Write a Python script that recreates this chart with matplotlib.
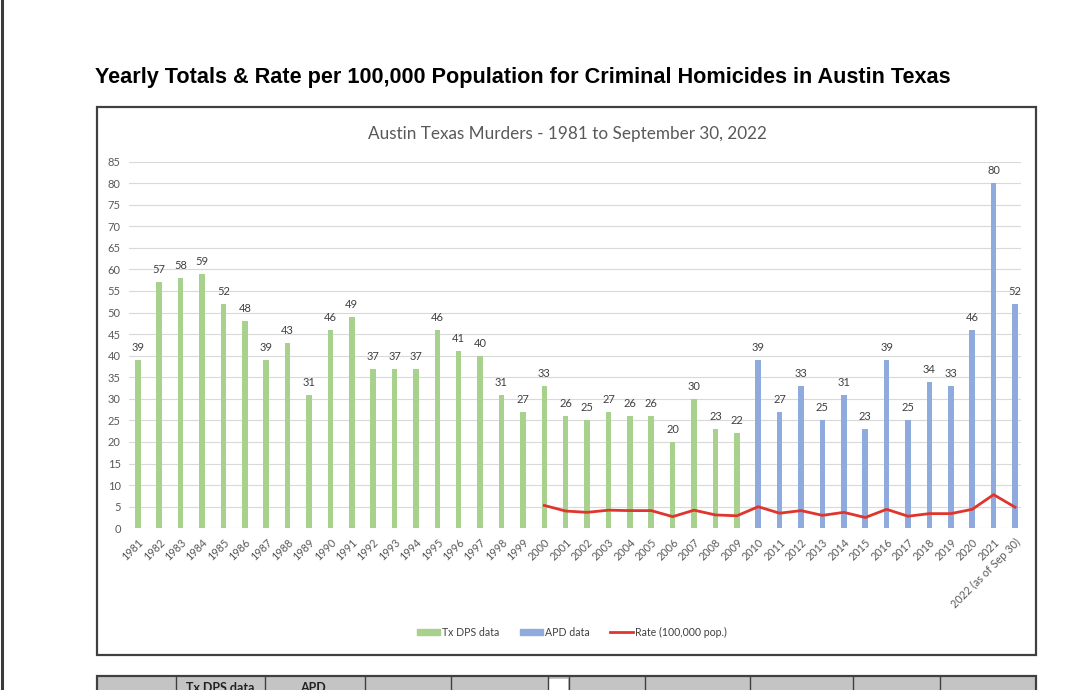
import matplotlib.pyplot as plt
from matplotlib.patches import Rectangle, Patch
from matplotlib.lines import Line2D

# data
years = [str(y) for y in range(1981, 2022)] + ['2022 (as of Sep 30)']
dps_counts = [39, 57, 58, 59, 52, 48, 39, 43, 31, 46, 49, 37, 37, 37, 46,
              41, 40, 31, 27, 33, 26, 25, 27, 26, 26, 20, 30, 23, 22]   # 1981-2009
apd_counts = [39, 27, 33, 25, 31, 23, 39, 25, 34, 33, 46, 80, 52]       # 2010-2022
rate = [5.3, 4.0, 3.7, 4.2, 4.1, 4.1, 2.7, 4.2, 3.1, 2.9, 5.0, 3.5,
        4.1, 3.0, 3.7, 2.5, 4.4, 2.8, 3.4, 3.4, 4.4, 7.8, 4.9]          # 2000-2022
rate_start = 2000 - 1981

GREEN = '#a9d18e'
BLUE = '#8faadc'
RED = '#e0352d'
W, H = 1079, 690

fig = plt.figure(figsize=(W / 100, H / 100), dpi=100)
fig.patch.set_facecolor('white')

def px(x0, y0, x1, y1):
    # pixel box -> figure fraction [left, bottom, width, height]
    return [x0 / W, 1 - y1 / H, (x1 - x0) / W, (y1 - y0) / H]

# page decoration: left page edge, chart frame, table below
fig.add_artist(Line2D([1.5 / W, 1.5 / W], [0, 1], color='#3a3a3a', lw=2.2))
fig.add_artist(Rectangle((97 / W, 1 - 655 / H), 939 / W, 548 / H, fill=False,
                         ec='#404040', lw=1.6))
fig.add_artist(Rectangle((97 / W, 1 - 700 / H), 939 / W, 24 / H, fc='#c4c4c4',
                         ec='#404040', lw=1.6))
fig.add_artist(Rectangle((548 / W, 1 - 700 / H), 20 / W, 21 / H, fc='white', ec='none'))
for x in [176, 265, 365, 451, 548, 569, 645, 750, 853, 940]:
    fig.add_artist(Line2D([x / W, x / W], [0, 1 - 677 / H], color='#404040', lw=1.0))
fig.text(220 / W, 1 - 682 / H, 'Tx DPS data', ha='center', va='top', fontsize=9,
         fontweight='bold', family='Lato', color='#222222')
fig.text(313 / W, 1 - 682 / H, 'APD', ha='center', va='top', fontsize=9,
         fontweight='bold', family='Lato', color='#222222')

fig.text(95 / W, 1 - 77 / H,
         'Yearly Totals & Rate per 100,000 Population for Criminal Homicides in Austin Texas',
         ha='left', va='center', fontsize=15.6, fontweight='bold',
         family='Liberation Sans', color='black')

ax = fig.add_axes(px(129, 161.5, 1021, 528.3))
x_dps = list(range(len(dps_counts)))
x_apd = list(range(len(dps_counts), len(dps_counts) + len(apd_counts)))
x_rate = list(range(rate_start, rate_start + len(rate)))

ax.bar(x_dps, dps_counts, width=0.26, color=GREEN, zorder=2)
ax.bar(x_apd, apd_counts, width=0.26, color=BLUE, zorder=2)
ax.plot(x_rate, rate, color=RED, lw=2.0, zorder=3, solid_joinstyle='round')

for xs, vs in [(x_dps, dps_counts), (x_apd, apd_counts)]:
    for x, v in zip(xs, vs):
        ax.annotate(str(v), (x, v), xytext=(0, 5), textcoords='offset points',
                    ha='center', va='bottom', fontsize=8, family='Lato',
                    color='#404040')

ax.set_xlim(-0.41, 41.28)
ax.set_ylim(0, 85)
ax.set_yticks(range(0, 90, 5))
ax.set_xticks(range(len(years)))
ax.set_xticklabels(years, rotation=45, ha='right', rotation_mode='anchor',
                   fontsize=7.8, family='Lato', color='#595959')
for lab in ax.get_yticklabels():
    lab.set_fontsize(8)
    lab.set_family('Lato')
    lab.set_color('#595959')
ax.tick_params(length=0, pad=6)
ax.grid(axis='y', color='#d9d9d9', lw=0.8, zorder=0)
for s in ax.spines.values():
    s.set_visible(False)

fig.text(567 / W, 1 - 134 / H, 'Austin Texas Murders - 1981 to September 30, 2022',
         ha='center', va='center', fontsize=12.3, family='Lato', color='#595959')

handles = [Patch(color=GREEN), Patch(color=BLUE), Line2D([], [], color=RED, lw=2.0)]
fig.legend(handles, ['Tx DPS data', 'APD data', 'Rate (100,000 pop.)'],
           loc='center', bbox_to_anchor=(572 / W, 1 - 632 / H), ncol=3, frameon=False,
           prop={'family': 'Lato', 'size': 7.6}, handlelength=2.2,
           handleheight=0.5, handletextpad=0.2, columnspacing=1.9, labelcolor='#404040')

fig.savefig('out.png', dpi=100)
